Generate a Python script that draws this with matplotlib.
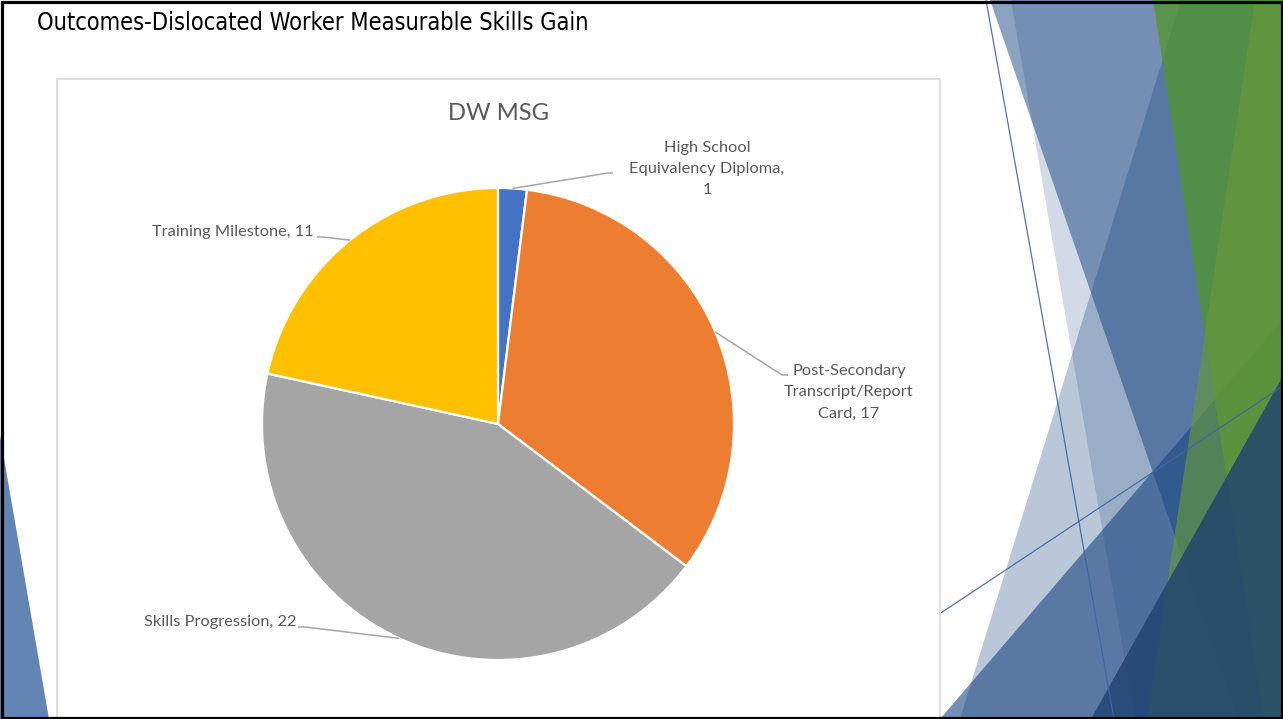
import matplotlib
matplotlib.use("Agg")
import numpy as np
import matplotlib.pyplot as plt
from matplotlib import font_manager
from matplotlib.patches import Polygon, Rectangle

W, H = 1283, 719

# ---- data -------------------------------------------------------------
slide_title = "Outcomes-Dislocated Worker Measurable Skills Gain"
chart_title = "DW MSG"
categories = ["High School\nEquivalency Diploma",
              "Post-Secondary\nTranscript/Report\nCard",
              "Skills Progression",
              "Training Milestone"]
values = [1, 17, 22, 11]
separators = [",\n", ", ", ", ", ", "]
slice_colors = ["#4472C4", "#ED7D31", "#A5A5A5", "#FFC000"]

# ---- figure in pixel units (y measured downward from the top) -----------
fig = plt.figure(figsize=(W / 100, H / 100), dpi=100)
ax = fig.add_axes([0, 0, 1, 1])


def Y(y):
    return H - y


def P(pts):
    return [(x, Y(y)) for x, y in pts]


# narrow face for the slide heading, if one is installed
installed = {(f.name, f.stretch) for f in font_manager.fontManager.ttflist}
heading_kw = dict(family="Roboto")
if ("Liberation Sans Narrow", "condensed") in installed or \
        ("Liberation Sans Narrow", "normal") in installed:
    heading_kw = dict(family="Liberation Sans Narrow")
elif ("DejaVu Sans", "condensed") in installed or \
        ("DejaVu Sans", "semi-condensed") in installed:
    heading_kw = dict(family="DejaVu Sans", fontstretch="condensed")

# ---- slide background decoration -------------------------------------
blue = "#194682"
green = "#52962A"
green2 = "#64993A"
navy = "#1E4170"
deco = [
    (P([(990, 0), (W, 0), (W, H), (1238, H)]), blue, 0.50),
    (P([(1011, 0), (W, 0), (W, H), (1135, H)]), blue, 0.20),
    (P([(1181, 0), (W, 0), (W, H), (960, H)]), blue, 0.30),
    (P([(W, 320), (W, H), (940, H)]), blue, 0.60),
    (P([(1153, 0), (W, 0), (W, H), (1264, H)]), green, 0.75),
    (P([(1255, 0), (W, 0), (W, H), (1147, H)]), green2, 0.65),
    (P([(W, 376), (W, H), (1091, H)]), navy, 0.80),
]
for pts, c, a in deco:
    ax.add_patch(Polygon(pts, closed=True, facecolor=c, edgecolor="none",
                         alpha=a, zorder=1))
ax.add_patch(Polygon(P([(0, 435), (0, H), (49, H)]), closed=True,
                     facecolor="#6385B4", edgecolor="none", zorder=1))
ax.plot([986, 1114], [Y(0), Y(H)], color="#3F66A8", lw=0.9, alpha=0.9, zorder=2)
ax.plot([781, W], [Y(H), Y(386)], color="#3F66A8", lw=0.9, alpha=0.9, zorder=2)

# ---- chart area ---------------------------------------------------------
ax.add_patch(Rectangle((57, Y(H + 5)), 940 - 57, (H + 5) - 79,
                       facecolor="white", edgecolor="#D9D9D9", lw=1.2, zorder=3))

cx, cy, R = 498, Y(424), 236
wedges, _ = ax.pie(values, colors=slice_colors, startangle=90, counterclock=False,
                   center=(cx, cy), radius=R, frame=True,
                   wedgeprops=dict(edgecolor="white", linewidth=1.6))
for w in wedges:
    w.set_zorder(4)

ax.set_xlim(0, W)
ax.set_ylim(0, H)
ax.set_aspect("auto")
ax.axis("off")

# ---- data labels with leader lines ------------------------------------
label_color = "#595959"
leader_color = "#A6A6A6"
# per label: elbow points of the leader (px), text anchor (px), alignment
layout = [
    dict(path=[(608, 173), (613, 173)], text=(707, 169), ha="center"),
    dict(path=[(782, 375), (788, 375)], text=(849, 392), ha="center"),
    dict(path=[(305, 627), (298, 627)], text=(297, 622), ha="right"),
    dict(path=[(323, 237), (317, 237)], text=(314, 232), ha="right"),
]
labels = []
for w, cat, val, sep, lay in zip(wedges, categories, values, separators, layout):
    mid = np.deg2rad((w.theta1 + w.theta2) / 2)
    ex, ey = cx + R * np.cos(mid), cy + R * np.sin(mid)
    xs = [ex] + [p[0] for p in lay["path"]]
    ys = [ey] + [Y(p[1]) for p in lay["path"]]
    ax.plot(xs, ys, color=leader_color, lw=1.1, zorder=5,
            solid_capstyle="butt")
    t = ax.text(lay["text"][0], Y(lay["text"][1]), f"{cat}{sep}{val}",
                ha=lay["ha"], va="center", multialignment="center",
                color=label_color, fontsize=10, family="Lato",
                linespacing=1.68, zorder=6)
    labels.append(t)

title_t = ax.text(498, Y(113), chart_title, ha="center", va="center",
                  color=label_color, fontsize=16, family="Lato", zorder=6)

slide_t = ax.text(37, Y(23), slide_title, ha="left", va="center",
                  color="black", fontsize=15, zorder=6, **heading_kw)

# size texts to their intended widths
fig.canvas.draw()
r = fig.canvas.get_renderer()


def fit(t, target):
    bb = t.get_window_extent(renderer=r)
    t.set_fontsize(t.get_fontsize() * target / bb.width)


fit(labels[3], 161)
for t in labels[:3]:
    t.set_fontsize(labels[3].get_fontsize())
fit(title_t, 101)
fit(slide_t, 556)

# ---- slide frame ----------------------------------------------------------
ax.add_patch(Rectangle((1.5, 1.5), W - 3, H - 3, facecolor="none",
                       edgecolor="black", lw=2.3, zorder=10))

fig.savefig("out.png", dpi=100)
